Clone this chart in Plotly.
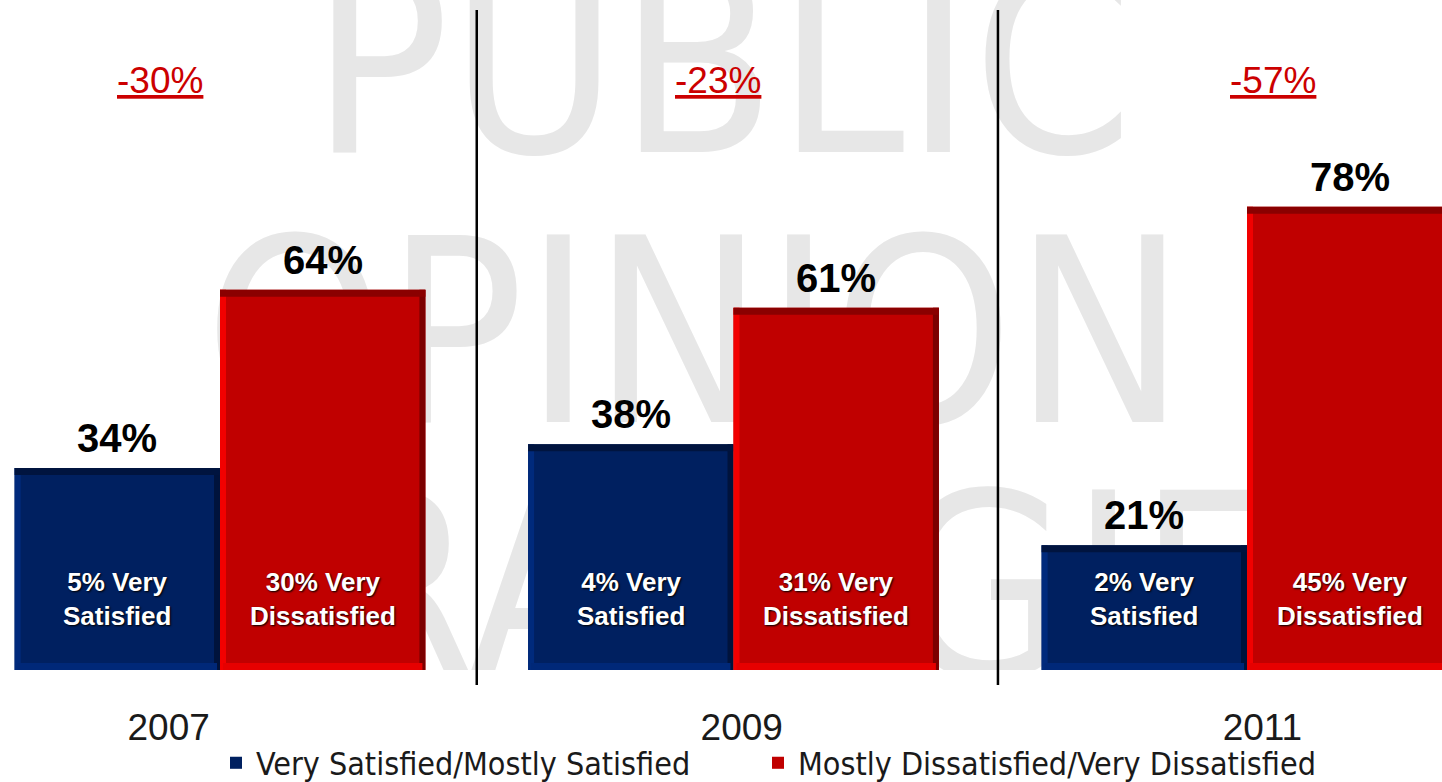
import plotly.graph_objects as go

# ---------------- data ----------------
years = ["2007", "2009", "2011"]
satisfied = [34, 38, 21]            # Very Satisfied/Mostly Satisfied
dissatisfied = [64, 61, 78]         # Mostly Dissatisfied/Very Dissatisfied
very_satisfied = [5, 4, 2]
very_dissatisfied = [30, 31, 45]
series_names = ["Very Satisfied/Mostly Satisfied",
                "Mostly Dissatisfied/Very Dissatisfied"]
watermark_words = ["PUBLIC", "OPINION", "STRATEGIES"]

# ---------------- layout / style constants ----------------
W, H = 1442, 782
PLOT_H = 670
PX_PER_UNIT_Y = 5.94
PX_PER_UNIT_X = 513.5
BAR_W = 0.4
EDGE_X = 6 / PX_PER_UNIT_X            # bevel band widths (data units)
EDGE_Y = 7 / PX_PER_UNIT_Y
STYLES = {
    "blue": dict(face="#002060", top="#00143f", left="#002a7c",
                 bottom="#002878", right="#00133c"),
    "red": dict(face="#c00000", top="#8a0000", left="#f20000",
                bottom="#e60000", right="#7c0000"),
}
COND = "DejaVu Sans Condensed, Liberation Sans Narrow, Arial Narrow, Liberation Sans, sans-serif"
SANS = "Liberation Sans, Arial, sans-serif"
YEAR_SHIFT = [-0.10, 0.016, 0.03]     # year label offsets (x units)
DIFF_SHIFT = [-0.117, -0.03, 0.05]    # change label offsets (x units)
SEPARATORS = [0.5, 1.515]
WM_X = [722, 695, 730]                # watermark centres (px)
WM_Y = [88, 358, 613]
LEGEND_X = [216 / W, 758 / W]         # left edges of the two legend entries

xpos = list(range(len(years)))
diffs = [s - d for s, d in zip(satisfied, dissatisfied)]

fig = go.Figure()

# watermark on the base axes (drawn beneath the overlaying bar subplot)
fig.add_trace(go.Scatter(
    x=WM_X, y=WM_Y, text=watermark_words, mode="text",
    textposition="middle center",
    textfont=dict(family=COND, size=256, color="#e7e7e7"),
    hoverinfo="skip", showlegend=False, xaxis="x", yaxis="y"))


def add_series(vals, name, off, st, legend_id):
    common = dict(x=xpos, xaxis="x2", yaxis="y2", hoverinfo="skip")
    fig.add_trace(go.Bar(y=vals, name=name, width=BAR_W, offset=off,
                         legend=legend_id,
                         marker=dict(color=st["face"], line=dict(width=0)),
                         **common))
    n = len(vals)
    # bevel bands: left, right (full height), then bottom, top
    fig.add_trace(go.Bar(y=vals, width=EDGE_X, offset=off, showlegend=False,
                         marker=dict(color=st["left"], line=dict(width=0)), **common))
    fig.add_trace(go.Bar(y=vals, width=EDGE_X, offset=off + BAR_W - EDGE_X,
                         showlegend=False,
                         marker=dict(color=st["right"], line=dict(width=0)), **common))
    fig.add_trace(go.Bar(y=[EDGE_Y] * n, base=[0] * n, width=BAR_W - EDGE_X,
                         offset=off + EDGE_X / 2, showlegend=False,
                         marker=dict(color=st["bottom"], line=dict(width=0)), **common))
    fig.add_trace(go.Bar(y=[EDGE_Y] * n, base=[v - EDGE_Y for v in vals],
                         width=BAR_W, offset=off, showlegend=False,
                         marker=dict(color=st["top"], line=dict(width=0)), **common))


add_series(satisfied, series_names[0], -BAR_W, STYLES["blue"], "legend")
add_series(dissatisfied, series_names[1], 0, STYLES["red"], "legend2")

ann = []
for i, x in enumerate(xpos):
    for val, cx in ((satisfied[i], x - BAR_W / 2), (dissatisfied[i], x + BAR_W / 2)):
        ann.append(dict(x=cx, y=val, xref="x2", yref="y2", text=f"<b>{val}%</b>",
                        showarrow=False, yanchor="bottom", yshift=6,
                        font=dict(family=SANS, size=40, color="#000000")))
    ann.append(dict(x=x - BAR_W / 2, y=12, xref="x2", yref="y2",
                    text=f"<b>{very_satisfied[i]}% Very<br>Satisfied</b>",
                    showarrow=False, align="center", yanchor="middle",
                    font=dict(family=SANS, size=26, color="#ffffff",
                              shadow="1px 1px 2px #000000")))
    ann.append(dict(x=x + BAR_W / 2, y=12, xref="x2", yref="y2",
                    text=f"<b>{very_dissatisfied[i]}% Very<br>Dissatisfied</b>",
                    showarrow=False, align="center", yanchor="middle",
                    font=dict(family=SANS, size=26, color="#ffffff",
                              shadow="1px 1px 2px #000000")))
    ann.append(dict(x=x + DIFF_SHIFT[i], y=1 - 80 / PLOT_H, xref="x2", yref="paper",
                    text=f"<u>{diffs[i]}%</u>", showarrow=False,
                    xanchor="center", yanchor="middle",
                    font=dict(family=SANS, size=37, color="#cc0000")))

shapes = [dict(type="line", xref="x2", yref="paper", x0=s, x1=s,
               y0=-15 / PLOT_H, y1=1 - 10 / PLOT_H,
               line=dict(color="#000000", width=2.5)) for s in SEPARATORS]

legend_style = dict(orientation="h", xanchor="left", xref="paper",
                    yref="container", y=1 - 763 / H, yanchor="middle",
                    font=dict(family=COND, size=32, color="#1a1a1a"),
                    bgcolor="rgba(0,0,0,0)", itemclick=False, itemdoubleclick=False)

fig.update_layout(
    width=W, height=H,
    margin=dict(l=0, r=0, t=0, b=H - PLOT_H, pad=0),
    paper_bgcolor="#ffffff", plot_bgcolor="#ffffff",
    barmode="overlay",
    xaxis=dict(range=[0, W], visible=False, fixedrange=True),
    yaxis=dict(range=[PLOT_H, 0], visible=False, fixedrange=True),
    xaxis2=dict(overlaying="x", anchor="y2",
                range=[-220 / PX_PER_UNIT_X, (W - 220) / PX_PER_UNIT_X],
                tickvals=[x + s for x, s in zip(xpos, YEAR_SHIFT)], ticktext=years,
                ticks="", showgrid=False, zeroline=False, showline=False,
                ticklabelstandoff=32, automargin=False,
                tickfont=dict(family=SANS, size=37, color="#1a1a1a")),
    yaxis2=dict(overlaying="y", anchor="x2", range=[0, PLOT_H / PX_PER_UNIT_Y],
                visible=False, showgrid=False, zeroline=False),
    legend=dict(x=LEGEND_X[0], **legend_style),
    legend2=dict(x=LEGEND_X[1], **legend_style),
    annotations=ann, shapes=shapes,
)

fig.write_html("out.html", config={"displayModeBar": False},
               post_script="document.body.style.margin='0px';")
